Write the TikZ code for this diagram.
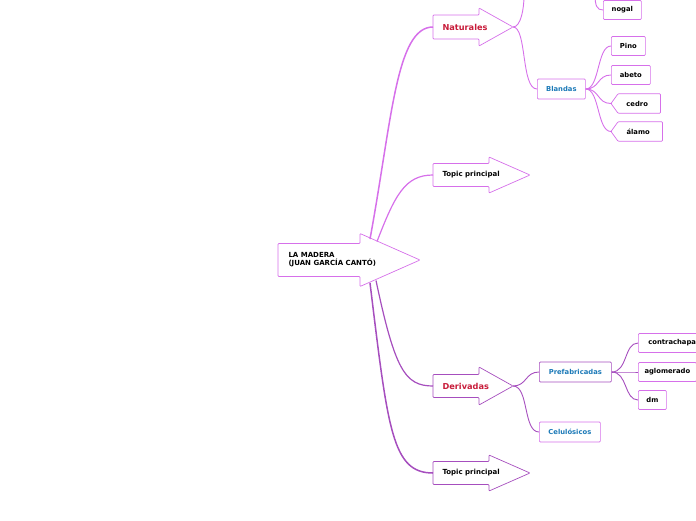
\documentclass[tikz,border=0pt]{standalone}
\usepackage{fontspec}
\setmainfont{DejaVu Sans}
\usetikzlibrary{positioning}
\definecolor{natline}{RGB}{214,112,234}
\definecolor{derline}{RGB}{166,78,190}
\definecolor{topicred}{RGB}{200,28,58}
\definecolor{subblue}{RGB}{28,122,184}

% arrow shaped topic: name, left x, mid y, body length, head length, body half, head half, colour
\newcommand{\topicarrow}[8]{%
  \draw[#8, fill=white, line width=0.7pt, rounded corners=0.8pt]
    (#2,#3-#6) -- ++(#4,0) -- (#2+#4,#3-#7) -- (#2+#4+#5,#3)
    -- (#2+#4,#3+#7) -- (#2+#4,#3+#6) -- (#2,#3+#6) -- cycle;
  \coordinate (#1) at (#2,#3);
  \coordinate (#1-tip) at (#2+#4+#5,#3);
}

\tikzset{
  topictext/.style={anchor=west, font=\fontsize{7}{8}\selectfont\bfseries, align=left},
  maintext/.style={anchor=west, font=\fontsize{8.2}{9}\selectfont\bfseries, text=topicred},
  subbox/.style={draw=#1, fill=white, line width=0.7pt, rounded corners=1pt, anchor=west,
    minimum height=20pt, inner xsep=0pt, text=subblue, font=\fontsize{6.8}{8}\selectfont\bfseries},
  leafbox/.style={draw=#1, fill=white, line width=0.7pt, rounded corners=1pt, anchor=west,
    minimum height=19pt, inner xsep=0pt, font=\fontsize{6.8}{8}\selectfont\bfseries},
  tagbox/.style={anchor=west, minimum height=19pt, inner xsep=0pt, font=\fontsize{6.8}{8}\selectfont\bfseries},
  natbranch/.style={natline, line width=0.9pt},
  derbranch/.style={derline, line width=0.9pt},
}

\begin{document}
\begin{tikzpicture}[x=1pt,y=-1pt]
\clip (0,0) rectangle (696,520);

% Central topic
\topicarrow{root}{278}{260}{82}{60}{16.5}{26.5}{natline}
\node[topictext] (roottext) at (285,260) {LA MADERA\\(JUAN GARCÍA CANTÓ)};
\coordinate (rootnat) at (370,239);
\coordinate (roottop) at (377,241.5);
\coordinate (rootder) at (376,280.5);
\coordinate (rootbot) at (370,283);

% Main topics
\topicarrow{naturales}{433}{27}{46}{34}{12}{19}{natline}
\node[maintext] (naturalestext) at (439,27) {Naturales};
\topicarrow{topicA}{433}{175}{56}{41}{11.5}{18}{natline}
\node[topictext] (topicAtext) at (439,175) {Topic principal};
\topicarrow{derivadas}{433}{386}{46}{34}{11.5}{19}{derline}
\node[maintext] (derivadastext) at (439,386) {Derivadas};
\topicarrow{topicB}{433}{473}{56}{41}{11.5}{18}{derline}
\node[topictext] (topicBtext) at (439,473) {Topic principal};

\draw[natline, line width=1.5pt] (rootnat) .. controls (392,120) and (396,27) .. (naturales);
\draw[natline, line width=1.2pt] (roottop) .. controls (395,195) and (405,175) .. (topicA);
\draw[derline, line width=1.2pt] (rootder) .. controls (395,370) and (405,386) .. (derivadas);
\draw[derline, line width=1.5pt] (rootbot) .. controls (388,430) and (392,473) .. (topicB);

% Naturales
\node[subbox=natline, minimum width=48pt] (blandas) at (537,89) {Blandas};
\node[leafbox=natline, minimum width=38pt] (nogal) at (603,10) {nogal};
\coordinate (duras) at (524,-4);
\coordinate (nogalin) at (595,-6);
\draw[natbranch] (naturales-tip) .. controls +(8,0) and +(0,12) .. (duras);
\draw[natbranch] (naturales-tip) .. controls +(14,0) and +(-16,0) .. (blandas.west);
\draw[natbranch] (nogalin) .. controls +(0,12) and +(-6,0) .. (nogal.west);

\node[leafbox=natline, minimum width=34pt] (pino) at (611,46) {Pino};
\node[leafbox=natline, minimum width=39pt] (abeto) at (611,75) {abeto};
\node[tagbox, minimum width=46pt, xshift=3pt] (cedro) at (611,103.5) {cedro};
\node[tagbox, minimum width=48pt, xshift=3pt] (alamo) at (611,131.5) {álamo};
\foreach \n in {cedro,alamo}
  \draw[natline, line width=0.7pt, fill=white, rounded corners=0.8pt]
    ([xshift=4pt]\n.north west) -- (\n.north east) -- (\n.south east)
    -- ([xshift=4pt]\n.south west) -- ([xshift=-3pt]\n.west) -- cycle;
\node[tagbox, minimum width=46pt, xshift=3pt] at (611,103.5) {cedro};
\node[tagbox, minimum width=48pt, xshift=3pt] at (611,131.5) {álamo};
\foreach \n in {pino,abeto}
  \draw[natbranch] (blandas.east) .. controls +(14,0) and +(-14,0) .. (\n.west);
\foreach \n in {cedro,alamo}
  \draw[natbranch] (blandas.east) .. controls +(14,0) and +(-14,0) .. ([xshift=-3pt]\n.west);

% Derivadas
\node[subbox=derline, minimum width=72pt] (prefab) at (539,372) {Prefabricadas};
\node[subbox=natline, minimum width=61pt] (celul) at (539,432) {Celulósicos};
\draw[derbranch] (derivadas-tip) .. controls +(14,0) and +(-14,0) .. (prefab.west);
\draw[derbranch] (derivadas-tip) .. controls +(16,0) and +(-16,0) .. (celul.west);

\node[leafbox=natline, inner xsep=10pt] (contra) at (638,343) {contrachapa};
\node[leafbox=natline, minimum width=58pt] (aglom) at (638,372) {aglomerado};
\node[leafbox=natline, minimum width=28pt] (dm) at (638,400) {dm};
\foreach \n in {contra,aglom,dm}
  \draw[derbranch] (prefab.east) .. controls +(16,0) and +(-14,0) .. (\n.west);
\end{tikzpicture}
\end{document}
